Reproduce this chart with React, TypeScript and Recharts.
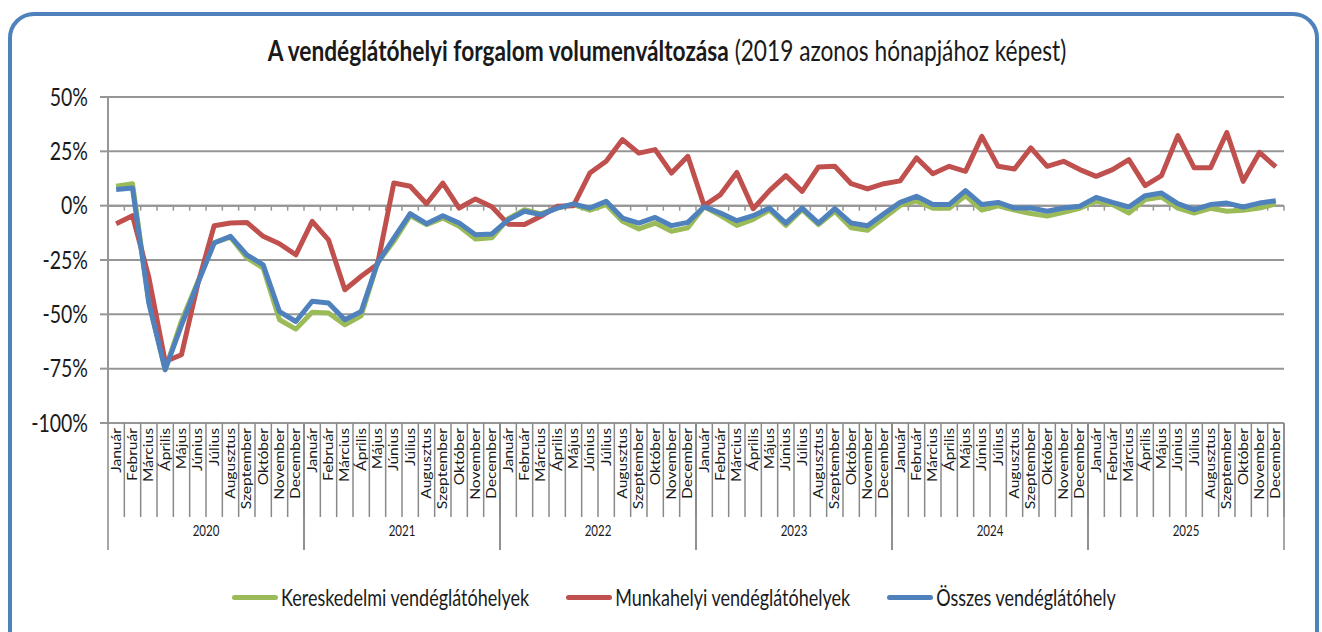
import React from 'react';
import { LineChart, Line, XAxis, YAxis, CartesianGrid, ReferenceLine, Legend } from 'recharts';

const years = ['2020', '2021', '2022', '2023', '2024', '2025'];
const monthNames = ['Január', 'Február', 'Március', 'Április', 'Május', 'Június', 'Július', 'Augusztus', 'Szeptember', 'Október', 'November', 'December'];

const kereskedelmi = [
  8.9, 10.1, -44, -75.5, -53, -35, -17, -14.5, -24, -28.7, -52.5, -56.8,
  -49, -49.4, -54.8, -50.7, -26.4, -16.4, -4.6, -8.7, -5.7, -9.5, -15.3, -14.8,
  -6, -1.9, -3.8, -1.1, 0.5, -2.1, 0.5, -7.2, -10.7, -8, -11.8, -10.2,
  -0.5, -4.6, -9.1, -6.3, -2, -9.1, -1.8, -8.7, -2.6, -10.2, -11.3, -5.7,
  0.1, 2.2, -1.2, -1.2, 4.6, -2, -0.1, -2, -3.6, -4.8, -3.1, -1.2,
  2, 0.5, -3.4, 2.8, 4, -1.1, -3.4, -1.2, -2.6, -2.1, -1.1, 0.8,
];

const munkahelyi = [
  -8.3, -4.6, -33, -71.7, -68.6, -36, -9.2, -8, -7.7, -14.1, -17.5, -22.6,
  -7.2, -15.7, -38.7, -32.5, -27, 10.4, 8.9, 0.9, 10.4, -1.1, 3.1, -0.5,
  -8.5, -8.7, -4.9, -0.3, 0, 15, 20.4, 30.4, 24.2, 25.8, 15, 22.7,
  0, 5.1, 15.3, -1.4, 6.9, 13.8, 6.6, 17.8, 18.1, 10.1, 7.7, 10.1,
  11.4, 22, 14.7, 18.1, 15.8, 31.9, 18.1, 16.9, 26.6, 18.1, 20.4, 16.6,
  13.5, 16.6, 21.2, 9.2, 13.8, 32.2, 17.4, 17.4, 33.7, 11.2, 24.5, 17.8,
];

const osszes = [
  7.4, 8.1, -44.8, -75.5, -55, -35.6, -17.2, -14.1, -22.6, -27.2, -48.7, -53.3,
  -44, -44.8, -52.5, -48.7, -26.4, -14.9, -3.7, -8.3, -4.6, -8, -13.4, -13,
  -6.5, -2.6, -4.1, -1.1, 0.8, -1.1, 2, -5.7, -8, -5.4, -9.2, -7.7,
  -0.5, -3.4, -6.9, -4.6, -1.1, -8, -1.1, -8, -1.4, -8, -9.2, -3.7,
  1.5, 4.3, 0.5, 0.5, 6.9, 0.5, 1.5, -1.1, -1.1, -2.6, -1.1, -0.3,
  3.8, 1.5, -0.6, 4.6, 5.8, 0.9, -1.8, 0.5, 1.2, -0.6, 1.2, 2.3,
];

const yTicks = [-100, -75, -50, -25, 0, 25, 50];

const seriesNames = {
  ker: 'Kereskedelmi vendéglátóhelyek',
  mun: 'Munkahelyi vendéglátóhelyek',
  ossz: 'Összes vendéglátóhely',
};

const N = years.length * monthNames.length;
const data = kereskedelmi.map((v, i) => ({
  pos: i + 0.5,
  ker: v,
  mun: munkahelyi[i],
  ossz: osszes[i],
}));
const monthTicks = data.map((d) => d.pos);
const yearTicks = years.map((_, i) => i * monthNames.length + monthNames.length / 2);
const boundaries = Array.from({ length: N + 1 }, (_, i) => i);

// layout
const W = 1322;
const H = 632;
const M_TOP = 97;
const M_RIGHT = 38;
const M_BOTTOM = 82;
const Y_W = 108;
const MONTH_AX_H = 94;
const YEAR_AX_H = 33;
const PLOT_W = W - Y_W - M_RIGHT;
const BAND = PLOT_W / N;

const GRAY = '#969696';
const SEP = '#8a8a8a';
const FONT = 'Lato, "Open Sans", sans-serif';
const TEXT = '#1a1a1a';
const SY = 1.25;

const GREEN = '#9BBB59';
const RED = '#C0504D';
const BLUE = '#4F81BD';

const YTick = (props: any) => {
  const { x, y, payload } = props;
  return (
    <text transform={`translate(${x},${y}) scale(1,${SY})`} textAnchor="end" dy="0.36em" fontSize={19.5} fontFamily={FONT} fill={TEXT}>
      {`${payload.value}%`}
    </text>
  );
};

const MonthTick = (props: any) => {
  const { x, y, payload } = props;
  const idx = Math.floor(payload.value) % monthNames.length;
  return (
    <g>
      <line x1={x + BAND / 2} y1={y} x2={x + BAND / 2} y2={y + MONTH_AX_H} stroke={SEP} strokeWidth={1.5} />
      <text transform={`translate(${x},${y + 5}) rotate(-90) scale(${SY},1)`} textAnchor="end" dy="0.36em" fontSize={12.5} fontFamily={FONT} fill={TEXT}>
        {monthNames[idx]}
      </text>
    </g>
  );
};

const YearTick = (props: any) => {
  const { x, y, payload } = props;
  const idx = Math.round((payload.value - monthNames.length / 2) / monthNames.length);
  const half = (BAND * monthNames.length) / 2;
  return (
    <g>
      <line x1={x - half} y1={y - MONTH_AX_H} x2={x - half} y2={y + YEAR_AX_H} stroke={SEP} strokeWidth={1.5} />
      <line x1={x + half} y1={y - MONTH_AX_H} x2={x + half} y2={y + YEAR_AX_H} stroke={SEP} strokeWidth={1.5} />
      <text transform={`translate(${x},${y + 14}) scale(1,${SY})`} textAnchor="middle" dy="0.36em" fontSize={11.5} fontFamily={FONT} fill={TEXT}>
        {years[idx]}
      </text>
    </g>
  );
};

const renderLegend = (props: any) => {
  const { payload } = props;
  return (
    <div style={{ display: 'flex', alignItems: 'center', gap: 37, whiteSpace: 'nowrap' }}>
      {(payload || []).map((entry: any) => (
        <div key={entry.value} style={{ display: 'flex', alignItems: 'center' }}>
          <div style={{ width: 46, height: 5, borderRadius: 3, background: entry.color, marginRight: 3 }} />
          <span style={{ fontFamily: FONT, fontSize: 18, color: TEXT, display: 'inline-block', transform: `scale(1,${SY})` }}>{entry.value}</span>
        </div>
      ))}
    </div>
  );
};

export default function App() {
  return (
    <div style={{ position: 'fixed', left: 0, top: 0, width: W, height: H, background: '#fff', overflow: 'hidden' }}>
      <div
        style={{
          position: 'absolute',
          left: 8,
          top: 12,
          width: 1311,
          height: 700,
          boxSizing: 'border-box',
          border: `4px solid ${BLUE}`,
          borderRadius: 26,
        }}
      />
      <div
        style={{
          position: 'absolute',
          left: 0,
          top: 33,
          width: 1334,
          textAlign: 'center',
          fontFamily: FONT,
          fontSize: 22.7,
          color: TEXT,
          transform: `scale(1,${SY})`,
          transformOrigin: 'center top',
          whiteSpace: 'nowrap',
        }}
      >
        <span style={{ fontWeight: 700 }}>A vendéglátóhelyi forgalom volumenváltozása</span>
        <span> (2019 azonos hónapjához képest)</span>
      </div>
      <div style={{ position: 'absolute', left: 0, top: 0 }}>
        <LineChart width={W} height={H} data={data} margin={{ top: M_TOP, right: M_RIGHT, bottom: M_BOTTOM, left: 0 }}>
          <CartesianGrid xAxisId="m" vertical={false} stroke={GRAY} strokeWidth={2} />
          <XAxis
            xAxisId="m"
            dataKey="pos"
            type="number"
            domain={[0, N]}
            ticks={monthTicks}
            interval={0}
            height={MONTH_AX_H}
            axisLine={false}
            tickLine={false}
            tickSize={0}
            tickMargin={0}
            tick={<MonthTick />}
          />
          <XAxis
            xAxisId="yr"
            dataKey="pos"
            type="number"
            domain={[0, N]}
            ticks={yearTicks}
            interval={0}
            height={YEAR_AX_H}
            axisLine={false}
            tickLine={false}
            tickSize={0}
            tickMargin={0}
            tick={<YearTick />}
          />
          <YAxis
            domain={[-100, 50]}
            ticks={yTicks}
            interval={0}
            width={Y_W}
            tickSize={8}
            tickMargin={12}
            axisLine={{ stroke: GRAY, strokeWidth: 2 }}
            tickLine={{ stroke: GRAY, strokeWidth: 2 }}
            tick={<YTick />}
          />
          <ReferenceLine xAxisId="m" y={0} stroke={GRAY} strokeWidth={2} />
          {boundaries.map((b) => (
            <ReferenceLine
              key={`t${b}`}
              xAxisId="m"
              segment={[{ x: b, y: 0 }, { x: b, y: -2.3 }]}
              stroke={GRAY}
              strokeWidth={1.5}
            />
          ))}
          <Line xAxisId="m" type="linear" dataKey="ker" name={seriesNames.ker} stroke={GREEN} strokeWidth={5} dot={false} strokeLinejoin="round" isAnimationActive={false} />
          <Line xAxisId="m" type="linear" dataKey="mun" name={seriesNames.mun} stroke={RED} strokeWidth={5} dot={false} strokeLinejoin="round" isAnimationActive={false} />
          <Line xAxisId="m" type="linear" dataKey="ossz" name={seriesNames.ossz} stroke={BLUE} strokeWidth={5} dot={false} strokeLinejoin="round" isAnimationActive={false} />
          <Legend
            verticalAlign="middle"
            align="center"
            layout="horizontal"
            content={renderLegend}
            wrapperStyle={{ top: 586, left: 232, width: 'auto', height: 24 }}
          />
        </LineChart>
      </div>
    </div>
  );
}
